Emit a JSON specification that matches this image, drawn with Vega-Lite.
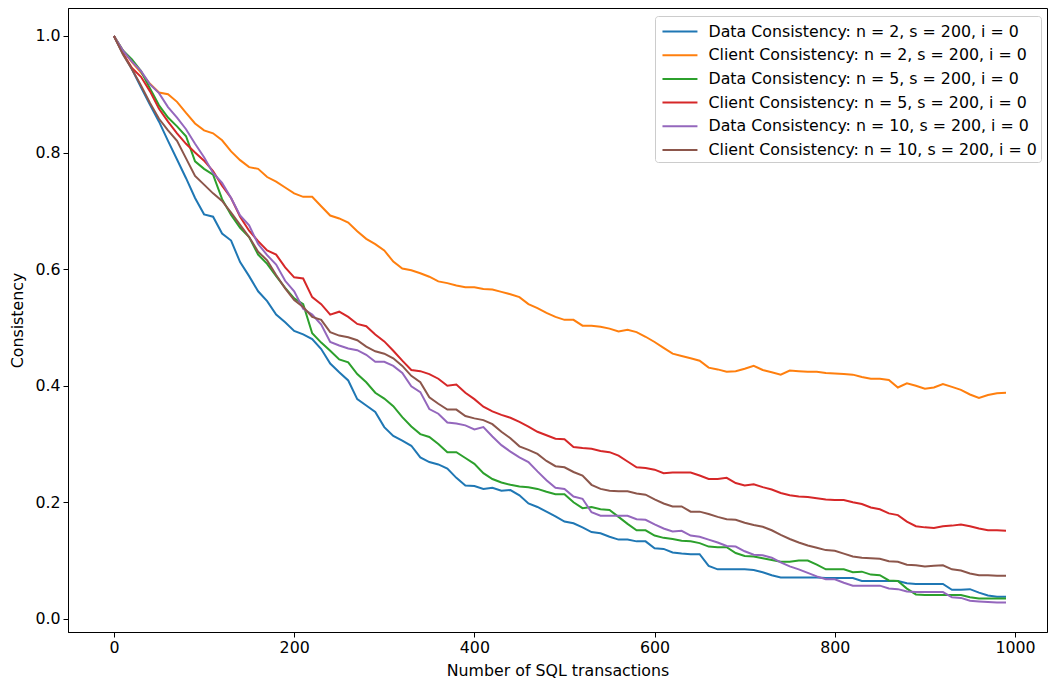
{
"$schema": "https://vega.github.io/schema/vega-lite/v6.json",
"width": 979, "height": 624,
"autosize": {"type": "none"},
"padding": {"left": 68, "top": 8, "right": 1, "bottom": 52},
"background": "white",
"config": {
  "font": "DejaVu Sans",
  "view": {"stroke": "black", "strokeWidth": 1},
  "axis": {"domainColor": "black", "tickColor": "black", "labelColor": "black", "titleColor": "black", "labelFontSize": 15.8, "titleFontSize": 15.8, "titleFontWeight": "normal", "tickSize": 5, "grid": false, "labelPadding": 3, "domainWidth": 1, "tickWidth": 1}
},
"datasets": {
  "names": [
    {"k": "a", "label": "Data Consistency: n = 2, s = 200, i = 0"},
    {"k": "b", "label": "Client Consistency: n = 2, s = 200, i = 0"},
    {"k": "c", "label": "Data Consistency: n = 5, s = 200, i = 0"},
    {"k": "d", "label": "Client Consistency: n = 5, s = 200, i = 0"},
    {"k": "e", "label": "Data Consistency: n = 10, s = 200, i = 0"},
    {"k": "f", "label": "Client Consistency: n = 10, s = 200, i = 0"}
  ]
},
"data": {"values": [
{"x":0,"a":1.0,"b":1.0,"c":1.0,"d":1.0,"e":1.0,"f":1.0},
{"x":10,"a":0.97,"b":0.975,"c":0.975,"d":0.97,"e":0.975,"f":0.968},
{"x":20,"a":0.943,"b":0.955,"c":0.96,"d":0.945,"e":0.956,"f":0.943},
{"x":30,"a":0.912,"b":0.937,"c":0.94,"d":0.93,"e":0.94,"f":0.915},
{"x":40,"a":0.882,"b":0.918,"c":0.91,"d":0.905,"e":0.917,"f":0.885},
{"x":50,"a":0.853,"b":0.903,"c":0.881,"d":0.875,"e":0.902,"f":0.858},
{"x":60,"a":0.82,"b":0.9,"c":0.86,"d":0.853,"e":0.878,"f":0.838},
{"x":70,"a":0.788,"b":0.887,"c":0.845,"d":0.833,"e":0.86,"f":0.82},
{"x":80,"a":0.756,"b":0.868,"c":0.828,"d":0.815,"e":0.84,"f":0.79},
{"x":90,"a":0.722,"b":0.85,"c":0.785,"d":0.8,"e":0.815,"f":0.76},
{"x":100,"a":0.694,"b":0.838,"c":0.772,"d":0.786,"e":0.792,"f":0.745},
{"x":110,"a":0.69,"b":0.833,"c":0.762,"d":0.768,"e":0.765,"f":0.73},
{"x":120,"a":0.661,"b":0.821,"c":0.72,"d":0.743,"e":0.748,"f":0.717},
{"x":130,"a":0.649,"b":0.802,"c":0.693,"d":0.722,"e":0.722,"f":0.697},
{"x":140,"a":0.612,"b":0.787,"c":0.671,"d":0.69,"e":0.692,"f":0.676},
{"x":150,"a":0.588,"b":0.775,"c":0.655,"d":0.666,"e":0.675,"f":0.655},
{"x":160,"a":0.562,"b":0.772,"c":0.625,"d":0.648,"e":0.643,"f":0.63},
{"x":170,"a":0.545,"b":0.758,"c":0.609,"d":0.632,"e":0.624,"f":0.615},
{"x":180,"a":0.522,"b":0.75,"c":0.588,"d":0.625,"e":0.608,"f":0.59},
{"x":190,"a":0.509,"b":0.74,"c":0.568,"d":0.603,"e":0.58,"f":0.567},
{"x":200,"a":0.494,"b":0.73,"c":0.55,"d":0.586,"e":0.562,"f":0.547},
{"x":210,"a":0.488,"b":0.724,"c":0.54,"d":0.584,"e":0.532,"f":0.535},
{"x":220,"a":0.48,"b":0.724,"c":0.49,"d":0.552,"e":0.522,"f":0.518},
{"x":230,"a":0.463,"b":0.708,"c":0.474,"d":0.54,"e":0.505,"f":0.513},
{"x":240,"a":0.438,"b":0.692,"c":0.46,"d":0.522,"e":0.475,"f":0.492},
{"x":250,"a":0.423,"b":0.687,"c":0.445,"d":0.527,"e":0.469,"f":0.486},
{"x":260,"a":0.409,"b":0.68,"c":0.44,"d":0.518,"e":0.464,"f":0.483},
{"x":270,"a":0.377,"b":0.665,"c":0.42,"d":0.506,"e":0.461,"f":0.478},
{"x":280,"a":0.366,"b":0.652,"c":0.406,"d":0.502,"e":0.453,"f":0.467},
{"x":290,"a":0.355,"b":0.643,"c":0.388,"d":0.488,"e":0.441,"f":0.459},
{"x":300,"a":0.329,"b":0.632,"c":0.378,"d":0.476,"e":0.441,"f":0.455},
{"x":310,"a":0.314,"b":0.613,"c":0.365,"d":0.46,"e":0.434,"f":0.447},
{"x":320,"a":0.306,"b":0.601,"c":0.346,"d":0.443,"e":0.422,"f":0.434},
{"x":330,"a":0.297,"b":0.598,"c":0.33,"d":0.427,"e":0.399,"f":0.417},
{"x":340,"a":0.277,"b":0.593,"c":0.317,"d":0.425,"e":0.389,"f":0.406},
{"x":350,"a":0.269,"b":0.587,"c":0.312,"d":0.42,"e":0.36,"f":0.38},
{"x":360,"a":0.265,"b":0.579,"c":0.3,"d":0.412,"e":0.352,"f":0.369},
{"x":370,"a":0.258,"b":0.576,"c":0.286,"d":0.4,"e":0.337,"f":0.359},
{"x":380,"a":0.242,"b":0.572,"c":0.286,"d":0.402,"e":0.335,"f":0.359},
{"x":390,"a":0.229,"b":0.569,"c":0.276,"d":0.388,"e":0.332,"f":0.348},
{"x":400,"a":0.228,"b":0.569,"c":0.266,"d":0.377,"e":0.325,"f":0.344},
{"x":410,"a":0.223,"b":0.566,"c":0.25,"d":0.364,"e":0.329,"f":0.341},
{"x":420,"a":0.225,"b":0.565,"c":0.24,"d":0.356,"e":0.313,"f":0.334},
{"x":430,"a":0.22,"b":0.561,"c":0.234,"d":0.35,"e":0.298,"f":0.321},
{"x":440,"a":0.221,"b":0.557,"c":0.23,"d":0.345,"e":0.287,"f":0.31},
{"x":450,"a":0.212,"b":0.552,"c":0.227,"d":0.338,"e":0.277,"f":0.296},
{"x":460,"a":0.198,"b":0.54,"c":0.226,"d":0.33,"e":0.269,"f":0.29},
{"x":470,"a":0.192,"b":0.533,"c":0.223,"d":0.321,"e":0.253,"f":0.283},
{"x":480,"a":0.184,"b":0.525,"c":0.218,"d":0.315,"e":0.238,"f":0.271},
{"x":490,"a":0.176,"b":0.518,"c":0.214,"d":0.309,"e":0.225,"f":0.262},
{"x":500,"a":0.167,"b":0.513,"c":0.214,"d":0.308,"e":0.223,"f":0.26},
{"x":510,"a":0.164,"b":0.513,"c":0.2,"d":0.295,"e":0.21,"f":0.252},
{"x":520,"a":0.157,"b":0.503,"c":0.19,"d":0.293,"e":0.206,"f":0.246},
{"x":530,"a":0.149,"b":0.503,"c":0.192,"d":0.292,"e":0.183,"f":0.23},
{"x":540,"a":0.147,"b":0.501,"c":0.188,"d":0.288,"e":0.177,"f":0.223},
{"x":550,"a":0.141,"b":0.498,"c":0.187,"d":0.286,"e":0.177,"f":0.22},
{"x":560,"a":0.136,"b":0.493,"c":0.175,"d":0.28,"e":0.177,"f":0.219},
{"x":570,"a":0.136,"b":0.496,"c":0.163,"d":0.27,"e":0.177,"f":0.219},
{"x":580,"a":0.133,"b":0.492,"c":0.152,"d":0.26,"e":0.171,"f":0.215},
{"x":590,"a":0.133,"b":0.484,"c":0.152,"d":0.259,"e":0.17,"f":0.213},
{"x":600,"a":0.121,"b":0.475,"c":0.143,"d":0.256,"e":0.162,"f":0.205},
{"x":610,"a":0.12,"b":0.465,"c":0.139,"d":0.25,"e":0.155,"f":0.198},
{"x":620,"a":0.114,"b":0.455,"c":0.137,"d":0.251,"e":0.15,"f":0.193},
{"x":630,"a":0.112,"b":0.451,"c":0.134,"d":0.251,"e":0.151,"f":0.193},
{"x":640,"a":0.111,"b":0.447,"c":0.133,"d":0.251,"e":0.143,"f":0.184},
{"x":650,"a":0.111,"b":0.443,"c":0.13,"d":0.246,"e":0.141,"f":0.184},
{"x":660,"a":0.091,"b":0.431,"c":0.124,"d":0.24,"e":0.136,"f":0.18},
{"x":670,"a":0.085,"b":0.428,"c":0.123,"d":0.24,"e":0.131,"f":0.175},
{"x":680,"a":0.085,"b":0.424,"c":0.123,"d":0.242,"e":0.125,"f":0.171},
{"x":690,"a":0.085,"b":0.425,"c":0.113,"d":0.233,"e":0.124,"f":0.17},
{"x":700,"a":0.085,"b":0.429,"c":0.108,"d":0.229,"e":0.116,"f":0.165},
{"x":710,"a":0.084,"b":0.434,"c":0.107,"d":0.231,"e":0.11,"f":0.161},
{"x":720,"a":0.08,"b":0.427,"c":0.104,"d":0.226,"e":0.109,"f":0.158},
{"x":730,"a":0.075,"b":0.423,"c":0.101,"d":0.222,"e":0.105,"f":0.152},
{"x":740,"a":0.071,"b":0.419,"c":0.098,"d":0.216,"e":0.097,"f":0.144},
{"x":750,"a":0.071,"b":0.426,"c":0.098,"d":0.212,"e":0.09,"f":0.137},
{"x":760,"a":0.071,"b":0.425,"c":0.1,"d":0.21,"e":0.085,"f":0.131},
{"x":770,"a":0.071,"b":0.424,"c":0.1,"d":0.209,"e":0.079,"f":0.126},
{"x":780,"a":0.071,"b":0.424,"c":0.093,"d":0.207,"e":0.073,"f":0.122},
{"x":790,"a":0.07,"b":0.422,"c":0.085,"d":0.205,"e":0.068,"f":0.118},
{"x":800,"a":0.07,"b":0.421,"c":0.085,"d":0.204,"e":0.068,"f":0.117},
{"x":810,"a":0.07,"b":0.42,"c":0.085,"d":0.204,"e":0.062,"f":0.112},
{"x":820,"a":0.07,"b":0.419,"c":0.08,"d":0.2,"e":0.057,"f":0.107},
{"x":830,"a":0.065,"b":0.415,"c":0.081,"d":0.197,"e":0.057,"f":0.105},
{"x":840,"a":0.065,"b":0.412,"c":0.076,"d":0.191,"e":0.057,"f":0.104},
{"x":850,"a":0.065,"b":0.412,"c":0.075,"d":0.188,"e":0.057,"f":0.103},
{"x":860,"a":0.065,"b":0.41,"c":0.066,"d":0.181,"e":0.052,"f":0.099},
{"x":870,"a":0.065,"b":0.397,"c":0.065,"d":0.178,"e":0.051,"f":0.098},
{"x":880,"a":0.061,"b":0.404,"c":0.052,"d":0.167,"e":0.047,"f":0.093},
{"x":890,"a":0.06,"b":0.4,"c":0.042,"d":0.159,"e":0.046,"f":0.092},
{"x":900,"a":0.06,"b":0.395,"c":0.041,"d":0.157,"e":0.046,"f":0.09},
{"x":910,"a":0.06,"b":0.397,"c":0.041,"d":0.156,"e":0.046,"f":0.091},
{"x":920,"a":0.06,"b":0.403,"c":0.041,"d":0.159,"e":0.046,"f":0.092},
{"x":930,"a":0.05,"b":0.398,"c":0.041,"d":0.16,"e":0.037,"f":0.085},
{"x":940,"a":0.05,"b":0.393,"c":0.041,"d":0.162,"e":0.036,"f":0.083},
{"x":950,"a":0.051,"b":0.385,"c":0.037,"d":0.159,"e":0.031,"f":0.078},
{"x":960,"a":0.045,"b":0.379,"c":0.035,"d":0.155,"e":0.03,"f":0.075},
{"x":970,"a":0.04,"b":0.384,"c":0.035,"d":0.152,"e":0.029,"f":0.075},
{"x":980,"a":0.038,"b":0.387,"c":0.035,"d":0.152,"e":0.028,"f":0.074},
{"x":990,"a":0.038,"b":0.388,"c":0.035,"d":0.151,"e":0.028,"f":0.074}
]},
"transform": [
  {"fold": ["a", "b", "c", "d", "e", "f"], "as": ["k", "y"]},
  {"lookup": "k", "from": {"data": {"name": "names"}, "key": "k", "fields": ["label"]}}
],
"mark": {"type": "line", "strokeWidth": 2},
"encoding": {
  "x": {"field": "x", "type": "quantitative",
        "scale": {"domain": [-51, 1035.5], "nice": false, "zero": false},
        "axis": {"values": [0, 200, 400, 600, 800, 1000], "format": "d", "title": "Number of SQL transactions", "titlePadding": 9}},
  "y": {"field": "y", "type": "quantitative",
        "scale": {"domain": [-0.0225, 1.048], "nice": false, "zero": false},
        "axis": {"values": [0, 0.2, 0.4, 0.6, 0.8, 1.0], "format": ".1f", "title": "Consistency", "titlePadding": 9}},
  "color": {"field": "label", "type": "nominal",
    "scale": {"domain": [
      "Data Consistency: n = 2, s = 200, i = 0",
      "Client Consistency: n = 2, s = 200, i = 0",
      "Data Consistency: n = 5, s = 200, i = 0",
      "Client Consistency: n = 5, s = 200, i = 0",
      "Data Consistency: n = 10, s = 200, i = 0",
      "Client Consistency: n = 10, s = 200, i = 0"],
      "range": ["#1f77b4", "#ff7f0e", "#2ca02c", "#d62728", "#9467bd", "#8c564b"]},
    "legend": {"title": null, "orient": "none", "legendX": 587, "legendY": 8,
      "symbolType": "M-0.73,0L2.45,0", "symbolSize": 484, "symbolStrokeWidth": 2,
      "labelFontSize": 15.8, "labelColor": "black", "labelOffset": 26, "labelLimit": 500,
      "padding": 3.5, "rowPadding": 3.7, "strokeColor": "#cccccc", "fillColor": "white", "cornerRadius": 3}}
}
}
